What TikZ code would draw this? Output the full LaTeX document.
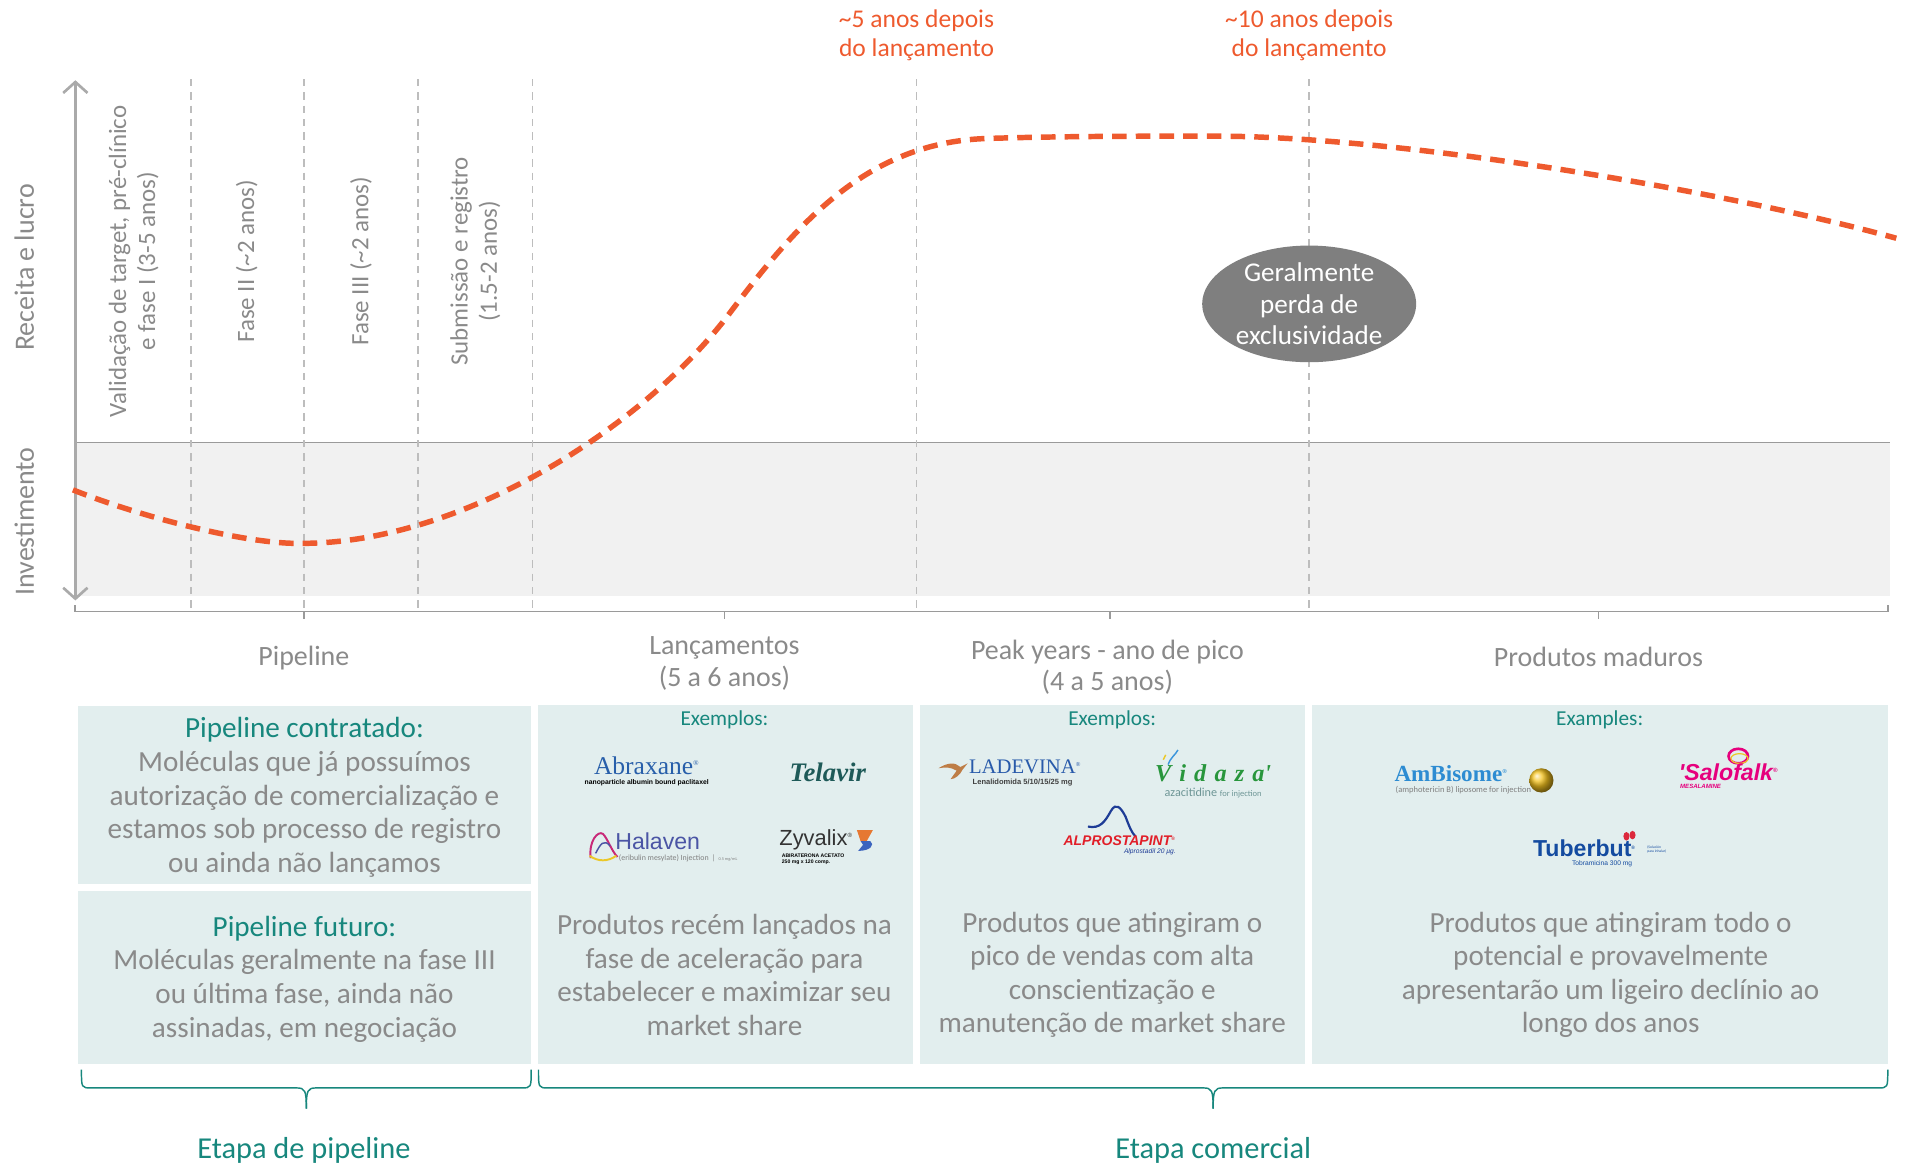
\documentclass[tikz,border=0pt]{standalone}
\usepackage{fontspec}
\setmainfont{Carlito}
\newfontfamily\logoserif{Liberation Serif}
\newfontfamily\logosans{Liberation Sans}
\usetikzlibrary{shapes.geometric,arrows.meta}
\definecolor{orng}{HTML}{EE5A2E}
\definecolor{tealc}{HTML}{17877D}
\definecolor{txtg}{HTML}{8A8A8A}
\definecolor{boxc}{HTML}{E2EEEE}
\definecolor{bandc}{HTML}{F1F1F1}
\definecolor{axisc}{HTML}{9A9A9A}
\definecolor{dashc}{HTML}{BDBDBD}
\definecolor{ellc}{HTML}{7F7F7F}
\definecolor{abxblue}{RGB}{40,95,170}
\definecolor{telteal}{RGB}{30,90,88}
\definecolor{halmag}{RGB}{200,40,120}
\definecolor{halyel}{RGB}{235,200,40}
\definecolor{halblue}{RGB}{75,85,165}
\definecolor{zyor}{RGB}{230,120,50}
\definecolor{zyblue}{RGB}{60,100,190}
\definecolor{ladbrown}{RGB}{190,125,70}
\definecolor{ladblue}{RGB}{40,90,170}
\definecolor{vidgreen}{RGB}{40,150,60}
\definecolor{vidgray}{RGB}{110,150,150}
\definecolor{vidsky}{RGB}{60,150,220}
\definecolor{alpblue}{RGB}{30,60,150}
\definecolor{alpred}{RGB}{225,30,40}
\definecolor{ambblue}{RGB}{45,140,210}
\definecolor{ambyel}{RGB}{245,195,30}
\definecolor{salmag}{RGB}{230,0,125}
\definecolor{tubblue}{RGB}{20,75,160}
\definecolor{tubred}{RGB}{220,40,60}
\begin{document}
\begin{tikzpicture}[x=1pt,y=-1pt,
  vdash/.style={draw=dashc, line width=1.2pt, dash pattern=on 6pt off 5pt},
  curvel/.style={draw=orng, line width=4.5pt, dash pattern=on 12pt off 7.5pt},
  body/.style={text=txtg, align=center, font=\fontsize{24}{27.6}\selectfont, inner sep=0pt},
  phase/.style={text=txtg, align=center, font=\fontsize{20.5}{24}\selectfont, inner sep=0pt, rotate=90},
  cat/.style={text=txtg, align=center, font=\fontsize{23}{26}\selectfont, inner sep=0pt},
  toplab/.style={text=orng, align=center, font=\fontsize{21}{23.5}\selectfont, inner sep=0pt},
  exlab/.style={text=tealc, font=\fontsize{17.5}{18}\selectfont, inner sep=0pt},
  boxn/.style={fill=boxc, anchor=north west, inner sep=0pt},
  brace/.style={draw=tealc, line width=1.2pt},
  stage/.style={text=tealc, font=\fontsize{25}{28}\selectfont, inner sep=0pt},
  tiny/.style={inner sep=0pt, font=\fontsize{6}{7}\selectfont}
]
\useasboundingbox (0,0) rectangle (1568,957);

% band and zero line
\fill[bandc] (62,364) rectangle (1555,490);
\coordinate (z0) at (62,364);
\coordinate (z1) at (1555,364);
\draw[axisc, line width=1.5pt] (z0) -- (z1);

% vertical dashed separators
\foreach \xx/\nm in {157/a,250/b,344/c,438/d,754/e,1077/f}{
  \coordinate (vt\nm) at (\xx,65);
  \coordinate (vb\nm) at (\xx,501);
  \draw[vdash] (vt\nm) -- (vb\nm);
}

% y axis
\coordinate (ytop) at (62,66);
\coordinate (ybot) at (62,494);
\draw[draw=dashc!90!black, line width=2.2pt, {Straight Barb[length=9pt,width=20pt]}-{Straight Barb[length=9pt,width=20pt]}] (ytop) -- (ybot);

% x axis
\coordinate (xa0) at (62,498);
\coordinate (xa1) at (1553,498);
\draw[axisc, line width=1.5pt] (xa0) -- (62,503) -- (1553,503) -- (xa1);
\foreach \xx in {250,596,913,1315}{
  \draw[axisc, line width=1.5pt] (\xx,503) -- (\xx,509);
}

% axis titles
\node[text=txtg, rotate=90, font=\fontsize{23}{24}\selectfont, inner sep=0pt] (rec) at (20,220) {Receita e lucro};
\node[text=txtg, rotate=90, font=\fontsize{23}{24}\selectfont, inner sep=0pt] (inv) at (20,429) {Investimento};

% phase labels
\node[phase] (p1) at (110,215) {Validação de target, pré-clínico\\e fase I (3-5 anos)};
\node[phase] (p2) at (203,215) {Fase II (\textasciitilde2 anos)};
\node[phase] (p3) at (297,215) {Fase III (\textasciitilde2 anos)};
\node[phase] (p4) at (391,215) {Submissão e registro\\(1.5-2 anos)};

% top orange labels
\node[toplab] (t5) at (754,29) {\textasciitilde5 anos depois\\do lançamento};
\node[toplab] (t10) at (1077,29) {\textasciitilde10 anos depois\\do lançamento};

% ellipse
\node[ellipse, fill=ellc, minimum width=176pt, minimum height=96pt, inner sep=0pt] (excl) at (1077,250) {};
\node[text=white, align=center, font=\fontsize{22.3}{26}\selectfont, inner sep=0pt] (exclt) at (1077,250) {Geralmente\\perda de\\exclusividade};

% orange curve
\coordinate (k0) at (60,403);
\coordinate (k1) at (248,447);
\coordinate (k2) at (600,258);
\coordinate (k3) at (810,114);
\coordinate (k4) at (1000,112);
\coordinate (k5) at (1560,196);
\draw[curvel] (k0) .. controls (110,423) and (200,448) .. (k1)
  .. controls (380,447) and (530,351) .. (k2)
  .. controls (655,185) and (712,118) .. (k3)
  .. controls (870,112) and (940,112) .. (k4)
  .. controls (1150,112) and (1420,157) .. (k5);

% category labels
\node[cat] (c1) at (250,541) {Pipeline};
\node[cat] (c2) at (596,546) {Lançamentos\\(5 a 6 anos)};
\node[cat] (c3) at (911,549) {Peak years - ano de pico\\(4 a 5 anos)};
\node[cat] (c4) at (1315,540) {Produtos maduros};

% boxes
\node[boxn, minimum width=373pt, minimum height=146pt] (b1a) at (64,581) {};
\node[boxn, minimum width=373pt, minimum height=142pt] (b1b) at (64,733) {};
\node[boxn, minimum width=309pt, minimum height=295pt] (b2) at (442,580) {};
\node[boxn, minimum width=316pt, minimum height=295pt] (b3) at (757,580) {};
\node[boxn, minimum width=474pt, minimum height=295pt] (b4) at (1079,580) {};

\node[body] (b1at) at (250.5,656) {{\color{tealc}Pipeline contratado:}\\Moléculas que já possuímos\\autorização de comercialização e\\estamos sob processo de registro\\ou ainda não lançamos};
\node[body] (b1bt) at (250.5,805.5) {{\color{tealc}Pipeline futuro:}\\Moléculas geralmente na fase III\\ou última fase, ainda não\\assinadas, em negociação};
\node[body] (b2t) at (596,802) {Produtos recém lançados na\\fase de aceleração para\\estabelecer e maximizar seu\\market share};
\node[body] (b3t) at (915,802) {Produtos que atingiram o\\pico de vendas com alta\\conscientização e\\manutenção de market share};
\node[body] (b4t) at (1325,802) {Produtos que atingiram todo o\\potencial e provavelmente\\apresentarão um ligeiro declínio ao\\longo dos anos};

\node[exlab] (e2) at (596,592) {Exemplos:};
\node[exlab] (e3) at (915,592) {Exemplos:};
\node[exlab] (e4) at (1316,592) {Examples:};

% ---- logos box 2
\node[inner sep=0pt, text=abxblue, font=\logoserif\fontsize{21}{22}\selectfont] (abx) at (532,630) {Abraxane\textsuperscript{\fontsize{6}{6}\selectfont ®}};
\node[tiny, font=\logosans\bfseries\fontsize{5.6}{6}\selectfont] (abxs) at (532,644) {nanoparticle albumin bound paclitaxel};

\node[inner sep=0pt, text=telteal, font=\logoserif\bfseries\itshape\fontsize{22}{23}\selectfont] (tel) at (681,635) {Telavir};

\draw[line width=1.6pt, halmag] (486,706) .. controls (484,692) and (492,683) .. (496,686) .. controls (500,690) and (503,700) .. (508,705);
\draw[line width=1.6pt, halyel] (485,704) .. controls (492,709) and (500,709) .. (507,704);
\draw[line width=1.2pt, halblue] (490,702) .. controls (494,694) and (497,690) .. (502,696);
\node[inner sep=0pt, text=halblue, font=\logosans\fontsize{19}{20}\selectfont, anchor=west] (hal) at (506,692) {Halaven};
\node[tiny, text=gray, anchor=west, font=\fontsize{6.5}{7}\selectfont] (hals) at (509,706) {(eribulin mesylate) Injection \,|\, \fontsize{3.5}{4}\selectfont 0.5 mg/mL};

\node[inner sep=0pt, text=black!80, font=\logosans\fontsize{18}{19}\selectfont, anchor=west] (zyv) at (641,691) {Zyvalix\textsuperscript{\fontsize{5}{5}\selectfont ®}};
\node[tiny, anchor=north west, align=left, font=\logosans\bfseries\fontsize{4.2}{5}\selectfont] (zyvs) at (643,702) {ABIRATERONA ACETATO\\250 mg x 120 comp.};
\fill[zyor] (705,683) -- (718,683) -- (713,692) -- (708,692) -- cycle;
\fill[zyblue] (708,692) -- (716,692) .. controls (720,695) and (716,700) .. (706,700) -- (710,695) -- cycle;

% ---- logos box 3
\fill[ladbrown] (772,632) .. controls (780,627) and (786,627) .. (790,631) -- (796,628) -- (792,633) .. controls (790,637) and (786,641) .. (782,641) -- (787,634) .. controls (782,631) and (778,631) .. cycle;
\node[inner sep=0pt, text=ladblue, font=\logoserif\fontsize{17}{18}\selectfont, anchor=west] (lad) at (797,631) {LADEVINA\textsuperscript{\fontsize{5}{5}\selectfont ®}};
\node[tiny, anchor=west, text=black!75, font=\logosans\bfseries\fontsize{6.2}{7}\selectfont] (lads) at (800,644) {Lenalidomida 5/10/15/25 mg};

\node[inner sep=0pt, text=vidgreen, font=\logoserif\bfseries\itshape\fontsize{20}{21}\selectfont] (vid) at (998,636) {V\,\,i\,\,d\,\,a\,\,z\,\,a'};
\node[tiny, text=vidgray, font=\fontsize{10}{11}\selectfont] (vids) at (998,652) {azacitidine {\fontsize{7}{8}\selectfont for injection}};
\draw[line width=1.2pt, vidsky] (961,629) .. controls (963,623) and (967,621) .. (969,617);
\draw[line width=1.2pt, halyel] (957,625) -- (959,621);

\draw[line width=1.8pt, alpblue] (895,680) .. controls (905,682) and (909,676) .. (914,667) .. controls (918,660) and (922,664) .. (926,672) .. controls (929,680) and (931,685) .. (934,688);
\node[inner sep=0pt, text=alpred, font=\logosans\bfseries\itshape\fontsize{11.5}{12}\selectfont] (alp) at (921,692) {ALPROSTAPINT\textsuperscript{\fontsize{4}{4}\selectfont ®}};
\node[tiny, text=alpblue, font=\logosans\itshape\fontsize{5.5}{6}\selectfont] (alps) at (946,701) {Alprostadil 20 µg.};

% ---- logos box 4
\node[inner sep=0pt, text=ambblue, font=\logoserif\bfseries\fontsize{19}{20}\selectfont, anchor=west] (amb) at (1147,636) {AmBisome\textsuperscript{\fontsize{5}{5}\selectfont ®}};
\node[tiny, anchor=west, text=gray, font=\fontsize{7}{8}\selectfont] (ambs) at (1148,650) {(amphotericin B) liposome for injection};
\shade[ball color=ambyel] (1268,642) circle (10pt);

\draw[line width=2.2pt, salmag] (1430,622) ellipse (8pt and 6pt);
\draw[line width=1pt, halyel] (1431,624) ellipse (7pt and 4pt);
\node[inner sep=0pt, text=salmag, font=\logosans\bfseries\itshape\fontsize{19}{20}\selectfont] (sal) at (1422,635) {'Salofalk\textsuperscript{\fontsize{5}{5}\selectfont ®}};
\node[tiny, text=salmag, font=\logosans\bfseries\itshape\fontsize{5}{6}\selectfont] (sals) at (1399,647) {MESALAMINE};

\node[inner sep=0pt, text=tubblue, font=\logosans\bfseries\fontsize{19}{20}\selectfont, anchor=west] (tub) at (1261,698) {Tuberbut\textsuperscript{\fontsize{4}{4}\selectfont ®}};
\node[tiny, text=tubblue, font=\logosans\fontsize{5.5}{6}\selectfont] (tubs) at (1318,711) {Tobramicina 300 mg};
\node[tiny, text=tubblue, align=left, anchor=west, font=\fontsize{3}{3.5}\selectfont] (tubx) at (1355,699) {(Solución\\para inhalar)};
\fill[tubred] (1338,688) ellipse (2.5pt and 3.5pt);
\fill[tubred] (1343,687) ellipse (2.5pt and 3.5pt);

% braces
\coordinate (lb0) at (67,880);
\coordinate (lb1) at (437,880);
\coordinate (lbt) at (252,912);
\draw[brace] (lb0) .. controls (67,895) and (67,895) .. (75,895) -- (244,895) .. controls (251,895) and (252,897) .. (lbt);
\draw[brace] (lb1) .. controls (437,895) and (437,895) .. (429,895) -- (260,895) .. controls (253,895) and (252,897) .. (lbt);
\coordinate (rb0) at (443,880);
\coordinate (rb1) at (1553,880);
\coordinate (rbt) at (998,912);
\draw[brace] (rb0) .. controls (443,895) and (443,895) .. (451,895) -- (990,895) .. controls (997,895) and (998,897) .. (rbt);
\draw[brace] (rb1) .. controls (1553,895) and (1553,895) .. (1545,895) -- (1006,895) .. controls (999,895) and (998,897) .. (rbt);

\node[stage] (s1) at (250,946) {Etapa de pipeline};
\node[stage] (s2) at (998,946) {Etapa comercial};
\end{tikzpicture}
\end{document}
